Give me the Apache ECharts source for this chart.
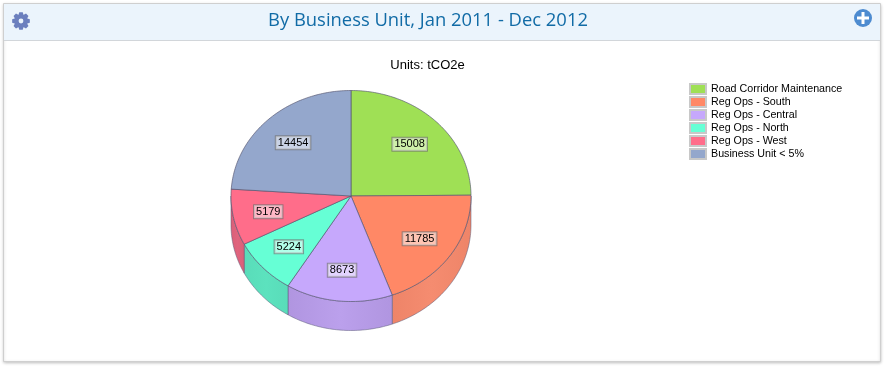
<!DOCTYPE html>
<html><head><meta charset="utf-8">
<style>html,body{margin:0;padding:0;background:#fff}#c{width:884px;height:366px}</style>
<script src="https://cdn.jsdelivr.net/npm/echarts@6/dist/echarts.min.js"></script>
</head><body><div id="c"></div>
<script>
const categories = ['Road Corridor Maintenance','Reg Ops - South','Reg Ops - Central','Reg Ops - North','Reg Ops - West','Business Unit < 5%'];
const values = [15008,11785,8673,5224,5179,14454];
const colors = ['#9fe055','#ff8866','#c6a8fc','#66ffd5','#ff6d8a','#94a7cc'];
const sideColors = ['#84bb47','#ee8468','#b095e0','#59dcb9','#d95f78','#8090b0'];
const sideMidColors = ['#8cc64c','#f58c70','#bba0ec','#5ce2be','#e0647e','#8898b8'];
const titleText = 'By Business Unit, Jan 2011 - Dec 2012';
const unitsText = 'Units: tCO2e';

const CX=351, CY=196, RX=120, RY=105.5, DEPTH=29, FONT='"Liberation Sans",Arial,sans-serif';
const total = values.reduce((a,b)=>a+b,0);
const pt=(t,dy)=>[CX+RX*Math.sin(t), CY-RY*Math.cos(t)+(dy||0)];
function arcPts(a,b,dy){const n=Math.max(2,Math.ceil(Math.abs(b-a)/0.02));const r=[];for(let i=0;i<=n;i++)r.push(pt(a+(b-a)*i/n,dy));return r;}

let acc=0;
const series = categories.map((name,i)=>{
  const start=acc/total*2*Math.PI; acc+=values[i]; const end=acc/total*2*Math.PI;
  return {
    type:'custom', name, coordinateSystem:'none', silent:true, animation:false,
    itemStyle:{color:colors[i],borderColor:'#c8c8c8',borderWidth:1},
    data:[[values[i]]],
    renderItem(){
      const kids=[];
      const a=Math.max(start,Math.PI/2), b=Math.min(end,1.5*Math.PI);
      if(b>a){
        const top=arcPts(a,b,0), bot=arcPts(a,b,DEPTH).reverse();
        kids.push({type:'polygon',shape:{points:top.concat(bot)},
          style:{fill:{type:'linear',x:0,y:0,x2:1,y2:0,colorStops:[{offset:0,color:sideColors[i]},{offset:.5,color:sideMidColors[i]},{offset:1,color:sideColors[i]}]},stroke:'rgba(90,90,120,0.5)',lineWidth:1}});
      }
      kids.push({type:'polygon',shape:{points:[[CX,CY]].concat(arcPts(start,end,0))},
        style:{fill:colors[i],stroke:'rgba(85,85,110,0.65)',lineWidth:1}});
      const mid=(start+end)/2;
      kids.push({type:'text',x:CX+RX*.7*Math.sin(mid)-0.5,y:CY-RY*.7*Math.cos(mid)+0.7,z2:10,
        style:{text:String(values[i]),font:'11px '+FONT,fill:'#000',align:'center',verticalAlign:'middle',
          backgroundColor:'rgba(255,255,255,0.5)',borderColor:'rgba(110,110,110,0.65)',borderWidth:1,padding:[1,2,1,2]}});
      return {type:'group',children:kids};
    }
  };
});

function gearPoints(cx,cy,teeth,ro,ri){
  const p=[];
  for(let k=0;k<teeth;k++){
    const c=k/teeth*2*Math.PI, w=Math.PI/teeth;
    [[-.95,ri],[-.5,ro],[.5,ro],[.95,ri]].forEach(([f,r])=>{const t=c+f*w;p.push([cx+r*Math.sin(t),cy-r*Math.cos(t)]);});
  }
  return p;
}

const chart=echarts.init(document.getElementById('c'),null,{renderer:'canvas'});
chart.setOption({
  animation:false,
  backgroundColor:'#fff',
  title:[
    {text:titleText,left:423,top:7,textAlign:'center',textStyle:{color:'#116ba6',fontFamily:'"Open Sans",sans-serif',fontSize:18.4,fontWeight:'normal'}},
    {text:unitsText,left:422.5,top:54,textAlign:'center',textStyle:{color:'#000',fontFamily:FONT,fontSize:13,fontWeight:'normal'}}
  ],
  legend:{orient:'vertical',left:689,top:83,itemWidth:16,itemHeight:10,itemGap:1,icon:'rect',selectedMode:false,
    data:categories,
    textStyle:{fontFamily:FONT,fontSize:10.7,color:'#000'},
    padding:0},
  graphic:[
    {type:'rect',z:-10,silent:true,shape:{x:3.5,y:3.5,width:877,height:358},style:{fill:'#fff',stroke:'#cfcfcf',lineWidth:1,shadowBlur:3,shadowColor:'rgba(0,0,0,0.22)',shadowOffsetY:1}},
    {type:'rect',z:-9,silent:true,shape:{x:4,y:4,width:876,height:36},style:{fill:'#ebf4fc'}},
    {type:'rect',z:-9,silent:true,shape:{x:4,y:40,width:876,height:1},style:{fill:'#d2d6da'}},
    {type:'group',silent:true,children:[
      {type:'polygon',shape:{points:gearPoints(21,21,8,9,6.8)},style:{fill:'#6b7fbe'}},
      {type:'circle',shape:{cx:21,cy:21,r:2.4},style:{fill:'#ebf4fc'}}
    ]},
    {type:'group',silent:true,children:[
      {type:'circle',shape:{cx:863,cy:18,r:9},style:{fill:'#4d8bd0'}},
      {type:'rect',shape:{x:857,y:16.5,width:12,height:3},style:{fill:'#fff'}},
      {type:'rect',shape:{x:861.5,y:12,width:3,height:12},style:{fill:'#fff'}}
    ]}
  ],
  series
});
</script></body></html>
